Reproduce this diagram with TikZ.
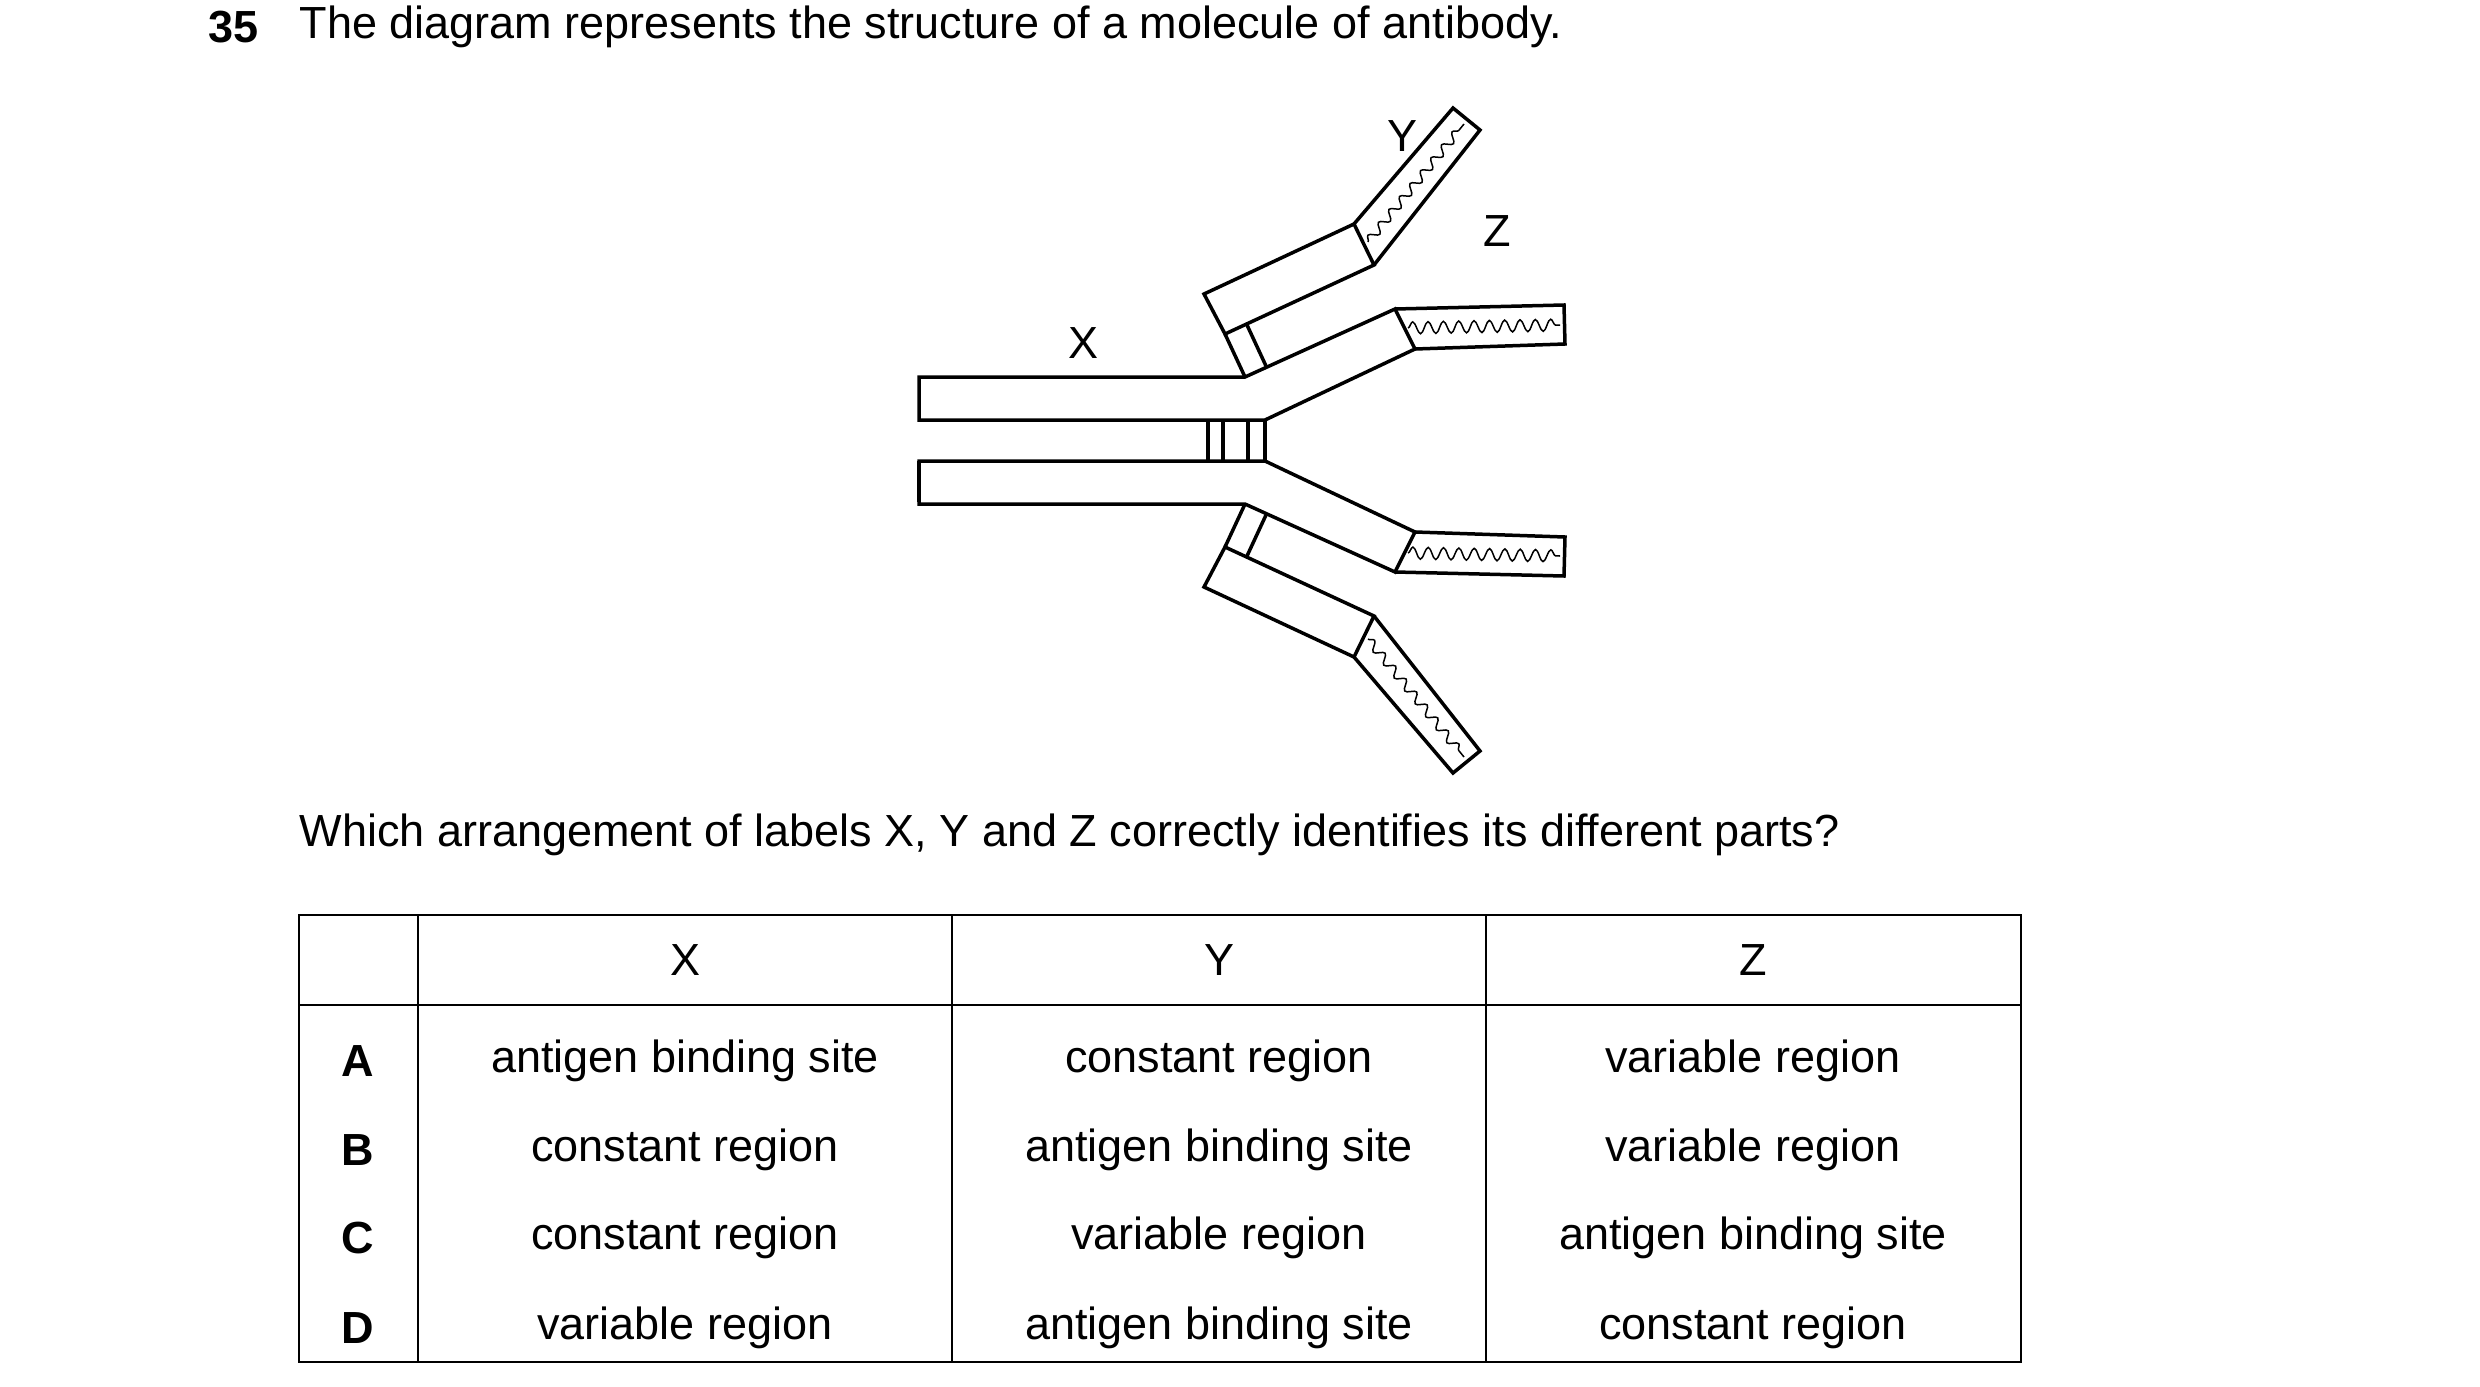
\documentclass[tikz,border=0pt]{standalone}
\usepackage{fontspec}
\setmainfont{Liberation Sans}
\usetikzlibrary{decorations.pathmorphing}
\begin{document}
\begin{tikzpicture}[x=0.3pt,y=-0.3pt,
  part/.style={draw,line width=1.05pt,line join=miter},
  wave/.style={draw,line width=0.45pt,decorate,decoration={snake,amplitude=#1}},
  lbl/.style={font=\fontsize{13.5pt}{16pt}\selectfont,inner sep=0pt},
  tline/.style={line width=0.75pt}]
\useasboundingbox (0,0) rectangle (2480,1387);
\newcommand{\armhalf}{%
  \draw[part] (919,377)--(1245,377)--(1395,309)--(1415,349)--(1265,420)--(919,420)--cycle;
  \draw[part] (1395,309)--(1564,305)--(1565,344)--(1415,349);
  \draw[wave=1.8pt,decoration={segment length=4.6pt}] (1408,328)--(1560,325);
  \draw[part] (1204,294)--(1354,224)--(1374,265)--(1225,334)--cycle;
  \draw[part] (1225,334)--(1245,377);
  \draw[part] (1247,325)--(1266,366);
  \draw[part] (1354,224)--(1453,108)--(1480,130)--(1374,265);
  \draw[wave=1.3pt,decoration={segment length=5pt}] (1368,242)--(1464,124);
}
\armhalf
\begin{scope}[shift={(0,440.5)},yscale=-1,shift={(0,-440.5)}]
\armhalf
\end{scope}
\draw[part] (919,461)--(919,502);
\foreach \xx in {1208,1223,1248,1265} \draw[part] (\xx,420)--(\xx,461);
\node[lbl] (lx) at (1083,343) {X};
\node[lbl] (ly) at (1402,136) {Y};
\node[lbl] (lz) at (1497,231) {Z};
% text
\node[lbl,font=\fontsize{13.5pt}{16pt}\selectfont\bfseries,anchor=west] (num) at (208,27) {35};
\node[lbl,anchor=west] (title) at (299,27) {The diagram represents the structure of a molecule of antibody.};
\node[lbl,anchor=west] (q) at (299,835) {Which arrangement of labels X, Y and Z correctly identifies its different parts?};
% table
\draw[tline] (299,915) rectangle (2021,1362);
\draw[tline] (299,1005)--(2021,1005);
\foreach \xx in {418,952,1486} \draw[tline] (\xx,915)--(\xx,1362);
\node[lbl] (hx) at (685,960) {X};
\node[lbl] (hy) at (1219,960) {Y};
\node[lbl] (hz) at (1753,960) {Z};
\foreach \L/\a/\b/\c/\yy in {A/antigen binding site/constant region/variable region/1061,
  B/constant region/antigen binding site/variable region/1150,
  C/constant region/variable region/antigen binding site/1238,
  D/variable region/antigen binding site/constant region/1328}{
  \node[lbl,font=\fontsize{13.5pt}{16pt}\selectfont\bfseries] at (358,\yy) {\L};
  \node[lbl] at (685,\yy) {\a};
  \node[lbl] at (1219,\yy) {\b};
  \node[lbl] at (1753,\yy) {\c};
}
\end{tikzpicture}
\end{document}
